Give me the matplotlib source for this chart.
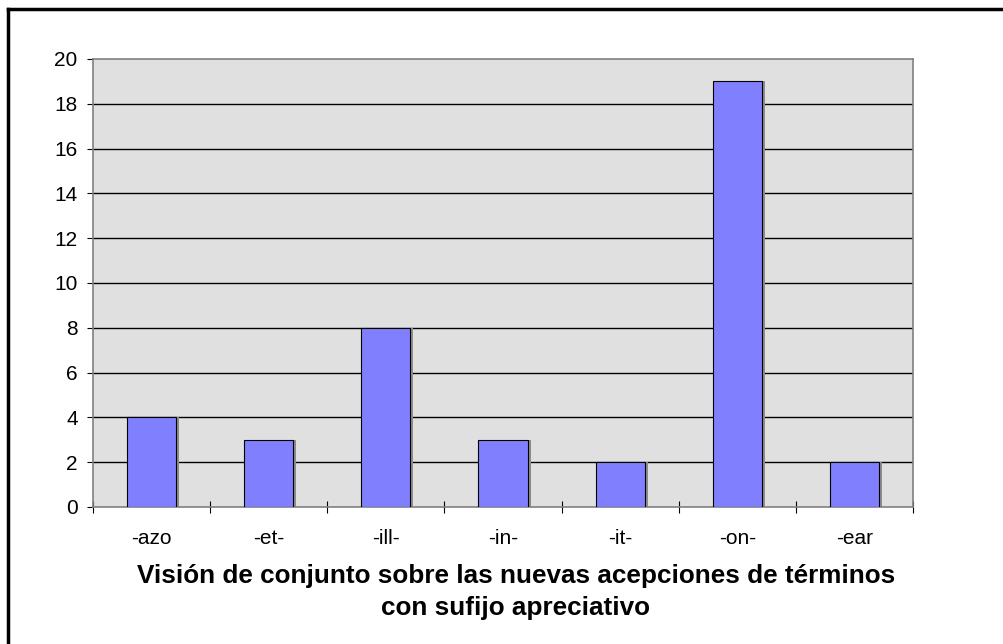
import matplotlib.pyplot as plt
import numpy as np

plt.rcParams['font.family'] = ['Liberation Sans', 'DejaVu Sans']

categorias = ['-azo', '-et-', '-ill-', '-in-', '-it-', '-on-', '-ear']
valores = [4, 3, 8, 3, 2, 19, 2]
yticks = [0, 2, 4, 6, 8, 10, 12, 14, 16, 18, 20]
titulo = ['Visión de conjunto sobre las nuevas acepciones de términos',
          'con sufijo apreciativo']

W, H = 1004, 644
fig = plt.figure(figsize=(W / 100, H / 100), dpi=100)
ax = fig.add_axes([93 / W, 1 - 507 / H, 820 / W, 448 / H])
ax.set_facecolor('#E0E0E0')

x = np.arange(len(categorias))
ax.bar(x + 0.025, valores, width=0.42, color='#8C8C8C', zorder=2)  # sombra
ax.bar(x, valores, width=0.42, color='#8080FF', edgecolor='black',
       linewidth=0.8, zorder=3)

ax.set_xlim(-0.5, len(categorias) - 0.5)
ax.set_ylim(0, 20)
ax.set_yticks(yticks)
ax.set_yticklabels([str(v) for v in yticks], fontsize=15)
for v in yticks[1:-1]:
    ax.axhline(v, color='black', linewidth=1, zorder=1)

ax.set_xticks(np.arange(-0.5, len(categorias)))
ax.set_xticklabels([])
ax.set_xticks(x, minor=True)
ax.set_xticklabels(categorias, minor=True, fontsize=15)
ax.tick_params(axis='x', which='major', length=9, direction='inout', color='black')
ax.tick_params(axis='x', which='minor', length=0, pad=16)
ax.tick_params(axis='y', length=4.5, color='black', pad=6.5)

for s in ax.spines.values():
    s.set_color('#808080')
    s.set_linewidth(1.2)

fig.text(516 / W, 1 - 583 / H, titulo[0], fontsize=18.8, fontweight='bold',
         ha='center', va='baseline')
fig.text(516 / W, 1 - 615 / H, titulo[1], fontsize=18.8, fontweight='bold',
         ha='center', va='baseline')

# marco exterior (solo visible arriba e izquierda)
fig.add_artist(plt.Line2D([8.5 / W, 8.5 / W], [0, 1 - 8.5 / H], color='black', linewidth=2.5))
fig.add_artist(plt.Line2D([8.5 / W, 1], [1 - 8.5 / H, 1 - 8.5 / H], color='black', linewidth=2.5))

fig.savefig('out.png', dpi=100)
